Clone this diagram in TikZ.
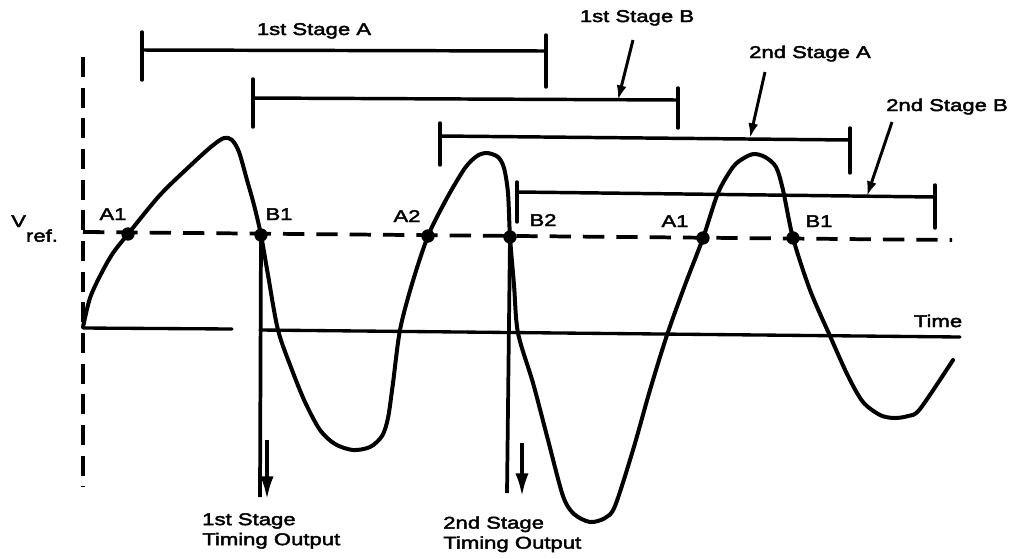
\documentclass[tikz,border=0pt]{standalone}
\usepackage{fontspec}
\newfontfamily\lab[FakeStretch=1.3,FakeBold=2.5]{Liberation Sans}
\usetikzlibrary{arrows.meta}
\begin{document}
\begin{tikzpicture}[x=0.75pt,y=-0.75pt,
  wave/.style={line width=3pt, line join=round, line cap=round},
  bar/.style={line width=2.6pt, line cap=round},
  axisline/.style={line width=2.5pt, line cap=round},
  refline/.style={line width=2.8pt, dash pattern=on 16pt off 9pt},
  vdash/.style={line width=3pt, dash pattern=on 15pt off 8pt},
  dot/.style={circle, fill=black, inner sep=0pt, minimum size=10pt},
  lbl/.style={font=\lab\fontsize{12.75pt}{15pt}\selectfont, inner sep=0pt},
  ptr/.style={line width=2.2pt, -{Latex[length=11pt,width=7.5pt]}},
  outline/.style={line width=2.8pt},
  outarrow/.style={line width=2.4pt, -{Latex[length=17pt,width=10pt]}}
]
\useasboundingbox (0,0) rectangle (1013,558);

% vertical dashed line and reference line
\coordinate (vtop) at (83,57);
\coordinate (vbot) at (83,487);
\draw[vdash] (vtop) -- (vbot);
\coordinate (rl) at (83,232);
\coordinate (rt) at (100,232);
\coordinate (rr) at (952,240);
\draw[refline] (rl) -- (rr);
\draw[line width=2.8pt] (rl) -- (rt);

% time axis
\coordinate (t0) at (83,328);
\coordinate (t1) at (232,329);
\coordinate (t2) at (260,330);
\coordinate (t3) at (960,337);
\draw[axisline] (t0) -- (t1);
\draw[axisline] (t2) -- (t3);

% crossing points
\node[dot] (a1) at (128,234) {};
\node[dot] (b1) at (261,235) {};
\node[dot] (a2) at (428,236) {};
\node[dot] (b2) at (510,237) {};
\node[dot] (a1s) at (703,238) {};
\node[dot] (b1s) at (793,238) {};

% waveform
\draw[wave] plot[smooth, tension=0.5] coordinates {
 (83,327) (90,298) (101,274) (113,253) (128,234) (160,195) (192,164) (212,146)
 (224,138) (232,140) (239,152) (247,180) (254,205) (261,235) (268,275) (278,330)
 (292,370) (305,402) (320,430) (335,444) (353,450) (370,447) (382,436) (388,418)
 (393,383) (400,330) (412,284) (428,236) (447,198) (465,168) (477,156) (487,153)
 (498,157) (504,168) (508,193) (510,237) (514,285) (518,333) (533,383) (548,440)
 (563,496) (574,514) (590,522) (605,518) (615,506) (633,450) (650,390) (667,335)
 (685,285) (703,238) (718,193) (733,167) (744,158) (754,154) (765,157) (776,167)
 (783,190) (793,238) (810,290) (830,336) (848,376) (863,402) (880,415) (894,418)
 (908,416) (920,409) (953,360)};

% timing outputs
\coordinate (b1end) at (260,497);
\coordinate (b2end) at (507,493);
\draw[outline] (b1.center) -- (b1end);
\draw[outline] (b2.center) -- (b2end);
\coordinate (o1s) at (267,440);
\coordinate (o1e) at (267,499);
\coordinate (o2s) at (522,443);
\coordinate (o2e) at (522,496);
\draw[outarrow] (o1s) -- (o1e);
\draw[outarrow] (o2s) -- (o2e);

% interval bars
% 1st Stage A
\coordinate (s1l) at (142,50); \coordinate (s1r) at (546,51);
\draw[bar] (s1l) -- (s1r);
\draw[bar] (142,32) -- (142,80);
\draw[bar] (546,35) -- (546,87);
% 1st Stage B
\coordinate (s2l) at (253,98); \coordinate (s2r) at (678,100);
\draw[bar] (s2l) -- (s2r);
\draw[bar] (253,79) -- (253,127);
\draw[bar] (678,88) -- (678,128);
% 2nd Stage A
\coordinate (s3l) at (440,136); \coordinate (s3r) at (850,140);
\draw[bar] (s3l) -- (s3r);
\draw[bar] (440,123) -- (440,165);
\draw[bar] (850,128) -- (850,173);
% 2nd Stage B
\coordinate (s4l) at (517,192); \coordinate (s4r) at (935,197);
\draw[bar] (s4l) -- (s4r);
\draw[bar] (517,182) -- (517,222);
\draw[bar] (935,185) -- (935,228);

% labels
\node[lbl, anchor=base] (l1a) at (314,35) {1st Stage A};
\node[lbl, anchor=base] (l1b) at (637,22) {1st Stage B};
\node[lbl, anchor=base] (l2a) at (810,58) {2nd Stage A};
\node[lbl, anchor=base] (l2b) at (947,111) {2nd Stage B};

\coordinate (p1s) at (633,40); \coordinate (p1e) at (618,100);
\coordinate (p2s) at (765,72); \coordinate (p2e) at (750,138);
\coordinate (p3s) at (892,122); \coordinate (p3e) at (867,196);
\draw[ptr] (p1s) -- (p1e);
\draw[ptr] (p2s) -- (p2e);
\draw[ptr] (p3s) -- (p3e);

\node[lbl, anchor=base] (ta1) at (113,220) {A1};
\node[lbl, anchor=base] (tb1) at (279,220) {B1};
\node[lbl, anchor=base] (ta2) at (407,222) {A2};
\node[lbl, anchor=base] (tb2) at (543,226) {B2};
\node[lbl, anchor=base] (ta1s) at (675,227) {A1};
\node[lbl, anchor=base] (tb1s) at (819,227) {B1};
\node[lbl, anchor=base] (time) at (938,327) {Time};
\node[lbl, anchor=base west] (vref) at (11,227) {V\raisebox{-11pt}{ref.}};

\node[lbl, anchor=north west, align=left] (out1) at (202,513) {1st Stage\\Timing Output};
\node[lbl, anchor=north west, align=left] (out2) at (443,516) {2nd Stage\\Timing Output};
\end{tikzpicture}
\end{document}
